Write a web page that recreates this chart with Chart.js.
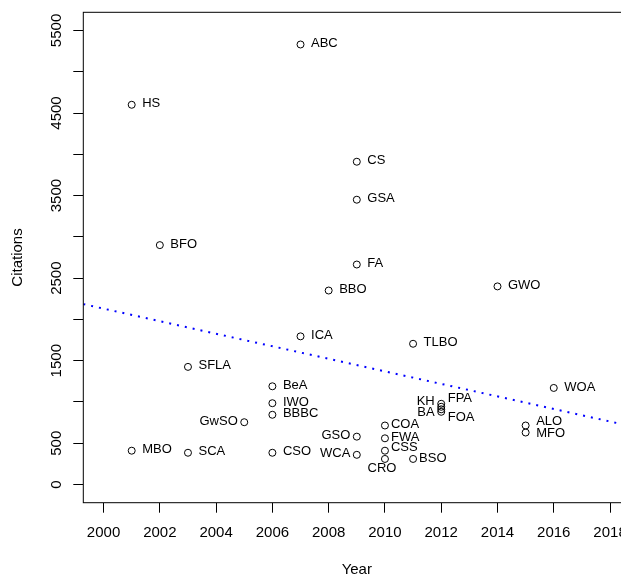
<!DOCTYPE html>
<html>
<head>
<meta charset="utf-8">
<script src="https://cdn.jsdelivr.net/npm/chart.js@4.4.1/dist/chart.umd.min.js"></script>
<style>
  html, body { margin: 0; padding: 0; background: #fff; overflow: hidden; }
  #wrap { width: 640px; height: 576px; }
</style>
</head>
<body>
<div id="wrap"><canvas id="citeChart" width="640" height="576"></canvas></div>
<script>
// ========== DATA ==========
const algorithms = ['ABC', 'HS', 'CS', 'GSA', 'BFO', 'FA', 'BBO', 'GWO', 'ICA', 'TLBO',
    'SFLA', 'WOA', 'BeA', 'IWO', 'BBBC', 'GwSO', 'FPA', 'KH', 'BA', 'FOA',
    'COA', 'ALO', 'MFO', 'GSO', 'FWA', 'MBO', 'SCA', 'CSO', 'WCA', 'CSS', 'CRO', 'BSO'];
const years = [2007, 2001, 2009, 2009, 2002, 2009, 2008, 2014, 2007, 2011,
    2003, 2016, 2006, 2006, 2006, 2005, 2012, 2012, 2012, 2012,
    2010, 2015, 2015, 2009, 2010, 2001, 2003, 2006, 2009, 2010, 2010, 2011];
const citations = [5330, 4600, 3910, 3450, 2900, 2665, 2350, 2400, 1795, 1705,
    1425, 1170, 1190, 985, 845, 755, 978, 942, 911, 881,
    715, 715, 630, 580, 560, 410, 385, 385, 360, 410, 310, 310];

// dotted trend line (value at left and right edge of the plot)
const trendYears = [1999.28, 2018.72];
const trendValues = [2185, 709];

const yearTicks = [2000, 2002, 2004, 2006, 2008, 2010, 2012, 2014, 2016, 2018];
const citationTicks = [0, 500, 1000, 1500, 2000, 2500, 3000, 3500, 4000, 4500, 5000, 5500];
const citationTickLabels = ['0', '500', '', '1500', '', '2500', '', '3500', '', '4500', '', '5500'];

// label placement (like R's pos): side, gap from point, vertical nudge
const labelPlace = {
    GSO: { side: 'left', gap: 6.5 }, WCA: { side: 'left', gap: 6.5 }, GwSO: { side: 'left', gap: 6.5 },
    KH: { side: 'left', gap: 6.5, dy: -4 }, BA: { side: 'left', gap: 6.5, dy: 4 },
    FPA: { side: 'right', gap: 6.5, dy: -4 }, FOA: { side: 'right', gap: 6.5, dy: 7 },
    COA: { side: 'right', gap: 6 }, FWA: { side: 'right', gap: 6 }, CSS: { side: 'right', gap: 6, dy: -2 },
    BSO: { side: 'right', gap: 6 }, ALO: { side: 'right', gap: 10.5, dy: -3 }, MFO: { side: 'right', gap: 10.5, dy: 2 },
    CRO: { side: 'below', dx: -3, dy: 10 }
};

const FONT = 'Liberation Sans, Arial, Helvetica, sans-serif';

// ========== PLUGINS ==========
const boxPlugin = {
    id: 'plotBox',
    afterDraw(chart) {
        const a = chart.chartArea;
        const ctx = chart.ctx;
        ctx.save();
        ctx.strokeStyle = '#000';
        ctx.lineWidth = 1;
        ctx.strokeRect(a.left, a.top, a.right - a.left, a.bottom - a.top);
        ctx.restore();
    }
};

const pointLabels = {
    id: 'pointLabels',
    afterDatasetsDraw(chart) {
        const ctx = chart.ctx;
        const meta = chart.getDatasetMeta(0);
        ctx.save();
        ctx.font = '13px ' + FONT;
        ctx.fillStyle = '#000';
        ctx.textBaseline = 'middle';
        meta.data.forEach((pt, i) => {
            const name = algorithms[i];
            const p = labelPlace[name] || {};
            const side = p.side || 'right';
            const gap = p.gap !== undefined ? p.gap : 10.5;
            const dy = (p.dy || 0) - 1;
            if (side === 'left') {
                ctx.textAlign = 'right';
                ctx.fillText(name, pt.x - gap, pt.y + dy);
            } else if (side === 'below') {
                ctx.textAlign = 'center';
                ctx.fillText(name, pt.x + (p.dx || 0), pt.y + dy);
            } else {
                ctx.textAlign = 'left';
                ctx.fillText(name, pt.x + gap, pt.y + dy);
            }
        });
        ctx.restore();
    }
};

// ========== CHART ==========
const ctx = document.getElementById('citeChart').getContext('2d');
new Chart(ctx, {
    data: {
        datasets: [
            {
                type: 'scatter',
                data: years.map((y, i) => ({ x: y, y: citations[i] })),
                pointStyle: 'circle',
                pointRadius: 3.5,
                pointBorderWidth: 1,
                pointBorderColor: '#000',
                pointBackgroundColor: 'rgba(0,0,0,0)'
            },
            {
                type: 'line',
                data: trendYears.map((y, i) => ({ x: y, y: trendValues[i] })),
                borderColor: '#0000ff',
                borderWidth: 2,
                borderDash: [2, 6],
                borderCapStyle: 'butt',
                pointRadius: 0,
                fill: false
            }
        ]
    },
    options: {
        responsive: false,
        animation: false,
        layout: { padding: { left: 0, right: 9.7, top: 12.3, bottom: 0 } },
        plugins: {
            legend: { display: false },
            tooltip: { enabled: false }
        },
        scales: {
            x: {
                type: 'linear',
                min: 1999.28,
                max: 2018.72,
                afterBuildTicks: s => { s.ticks = yearTicks.map(v => ({ value: v })); },
                afterFit: s => { s.height = 73.3; },
                ticks: {
                    autoSkip: false,
                    minRotation: 0,
                    maxRotation: 0,
                    padding: 11,
                    color: '#000',
                    font: { family: FONT, size: 15 },
                    callback: v => String(v)
                },
                grid: { drawOnChartArea: false, drawTicks: true, tickLength: 10, color: '#000', lineWidth: 1 },
                border: { display: false },
                title: { display: true, text: 'Year', color: '#000', font: { family: FONT, size: 15, lineHeight: 0.8 }, padding: { top: 0, bottom: 0 } }
            },
            y: {
                type: 'linear',
                min: -220,
                max: 5720,
                afterBuildTicks: s => { s.ticks = citationTicks.map(v => ({ value: v })); },
                afterFit: s => { s.width = 83.3; },
                ticks: {
                    autoSkip: false,
                    minRotation: 90,
                    maxRotation: 90,
                    crossAlign: 'center',
                    padding: 0,
                    color: '#000',
                    font: { family: FONT, size: 15 },
                    callback: (v, i) => citationTickLabels[i]
                },
                grid: { drawOnChartArea: false, drawTicks: true, tickLength: 10, color: '#000', lineWidth: 1 },
                border: { display: false },
                title: { display: true, text: 'Citations', color: '#000', font: { family: FONT, size: 15 }, padding: { top: 9, bottom: 0 } }
            }
        }
    },
    plugins: [boxPlugin, pointLabels]
});
</script>
</body>
</html>
